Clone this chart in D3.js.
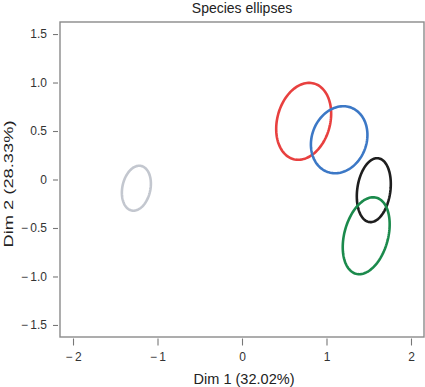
<!DOCTYPE html>
<html><head><meta charset="utf-8">
<script src="https://cdn.jsdelivr.net/npm/d3@7"></script>
<style>body{margin:0;background:#fff}svg{display:block}text{font-family:"Liberation Sans",Arial,sans-serif}</style>
</head><body><svg id="c" width="425" height="387"></svg>
<script>
const species = ["A","B","C","D","E"];
const centerX = [0.73, 1.15, 1.56, 1.47, -1.25];
const centerY = [0.60, 0.41, -0.11, -0.58, -0.09];
const semiX = [0.313, 0.324, 0.196, 0.259, 0.166];
const semiY = [0.404, 0.353, 0.332, 0.406, 0.235];
const tiltDeg = [15, 20, 8, 15, 12];
const colors = ["#e8403f", "#3c78c6", "#1e1e1e", "#1b8a4c", "#c3c7cf"];
const xTicks = [-2, -1, 0, 1, 2];
const yTicks = [1.5, 1.0, 0.5, 0, -0.5, -1.0, -1.5];
const xTickLabels = ["\u2212\u20092", "\u2212\u20091", "0", "1", "2"];
const yTickLabels = ["1.5", "1.0", "0.5", "0", "\u2212\u20090.5", "\u2212\u20091.0", "\u2212\u20091.5"];

const svg = d3.select("#c");
const L = 60, R = 424, T = 22, B = 337;
const x = d3.scaleLinear().domain([-2.154, 2.154]).range([L, R]);
const y = d3.scaleLinear().domain([-1.624, 1.624]).range([B, T]);

svg.append("text").attr("x", 242).attr("y", 12.5).attr("text-anchor", "middle")
  .attr("font-size", 14).attr("fill", "#222").text("Species ellipses");

svg.append("rect").attr("x", L).attr("y", T).attr("width", R - L).attr("height", B - T)
  .attr("fill", "none").attr("stroke", "#8a8a8a").attr("stroke-width", 1.4);

const xa = svg.append("g").attr("transform", `translate(0,${B + 1.5})`)
  .call(d3.axisBottom(x).tickValues(xTicks).tickSize(7).tickPadding(7)
    .tickFormat((d, i) => xTickLabels[i]));
const ya = svg.append("g").attr("transform", `translate(${L - 2},0)`)
  .call(d3.axisLeft(y).tickValues(yTicks).tickSize(5).tickPadding(6)
    .tickFormat((d, i) => yTickLabels[i]));
[xa, ya].forEach(g => {
  g.select(".domain").remove();
  g.selectAll("line").attr("stroke", "#777").attr("stroke-width", 1.1);
  g.selectAll("text").attr("font-size", 12).attr("fill", "#333")
    .attr("font-family", '"Liberation Sans",Arial,sans-serif');
});

svg.append("text").attr("x", 244).attr("y", 384).attr("text-anchor", "middle")
  .attr("font-size", 14).attr("fill", "#222")
  .attr("textLength", 101).attr("lengthAdjust", "spacingAndGlyphs").text("Dim 1 (32.02%)");
svg.append("text").attr("transform", "translate(12.5,184) rotate(-90)").attr("text-anchor", "middle")
  .attr("font-size", 13).attr("fill", "#222")
  .attr("textLength", 127).attr("lengthAdjust", "spacingAndGlyphs").text("Dim 2 (28.33%)");

const kx = x(1) - x(0), ky = y(0) - y(1);
const line = d3.line().curve(d3.curveLinearClosed);
species.forEach((s, i) => {
  const cx = x(centerX[i]), cy = y(centerY[i]);
  const a = semiX[i] * kx, b = semiY[i] * ky;
  const th = tiltDeg[i] * Math.PI / 180;
  const pts = d3.range(0, 2 * Math.PI, Math.PI / 60).map(t => {
    const u = a * Math.cos(t), v = -b * Math.sin(t);
    return [cx + u * Math.cos(th) - v * Math.sin(th), cy + u * Math.sin(th) + v * Math.cos(th)];
  });
  svg.append("path").attr("d", line(pts)).attr("fill", "none")
    .attr("stroke", colors[i]).attr("stroke-width", 2.6);
});
</script></body></html>
